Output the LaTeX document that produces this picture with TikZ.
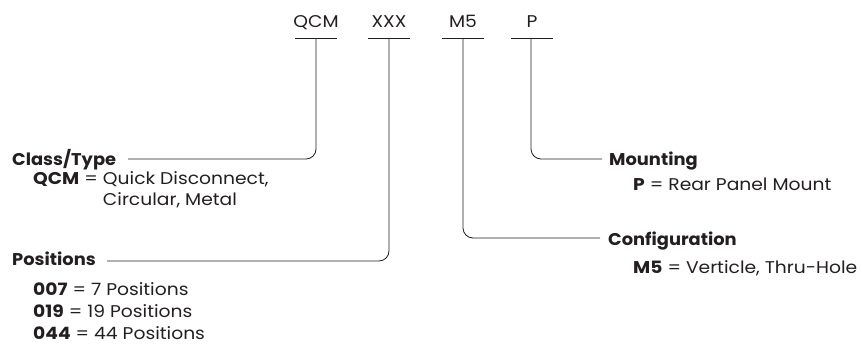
\documentclass[tikz,border=0pt]{standalone}
\usepackage{fontspec}
\setmainfont{Poppins}[FakeStretch=1.1]
\newfontfamily\headfont{Poppins}[FakeStretch=1.05]
\definecolor{ink}{RGB}{35,31,32}
\begin{document}
\begin{tikzpicture}[x=1pt,y=-1pt,
  code/.style={anchor=base, inner sep=0pt, text=ink, font=\fontsize{17}{20}\selectfont},
  head/.style={anchor=base west, inner sep=0pt, text=ink, font=\fontsize{17}{20}\selectfont\headfont\bfseries},
  desc/.style={anchor=base west, inner sep=0pt, text=ink, font=\fontsize{17}{21}\selectfont},
  bar/.style={draw=ink, line width=0.8pt},
  conn/.style={draw=ink, line width=0.8pt, rounded corners=10pt}]
\useasboundingbox (0,0) rectangle (862,354);
% top code letters
\node[code] (qcm) at (316,27) {QCM};
\node[code] (xxx) at (389,27) {XXX};
\node[code] (m5)  at (463,27) {M5};
\node[code] (p)   at (532,27) {P};
% bars
\draw[bar] (295,38) -- (337,38);
\draw[bar] (368,38) -- (410,38);
\draw[bar] (442,38) -- (484,38);
\draw[bar] (511,38) -- (553,38);
\coordinate (qcmb) at (316,38);
\coordinate (xxxb) at (389,38);
\coordinate (m5b)  at (463,38);
\coordinate (pb)   at (531,38);
% headings
\node[head] (class) at (12,165) {Class/Type};
\node[head] (pos)   at (12,265) {Positions};
\node[head] (mount) at (609,165) {Mounting};
\node[head] (conf)  at (608,245) {Configuration};
% line end points
\coordinate (classe) at (128,159);
\coordinate (pose)   at (107,261);
\coordinate (mounte) at (602,159);
\coordinate (confe)  at (600,238);
% connectors
\draw[conn] (qcmb) |- (classe);
\draw[conn] (xxxb) |- (pose);
\draw[conn] (pb) |- (mounte);
\draw[conn] (m5b) |- (confe);
% descriptions
\node[desc] (dqcm) at (33,184) {\begin{tabular}[t]{@{}l@{\hspace{0.3em}}l@{}}\textbf{QCM} = & Quick Disconnect,\\ & Circular, Metal\end{tabular}};
\node[desc] (d007) at (33,295) {\textbf{007} = 7 Positions};
\node[desc] (d019) at (33,317) {\textbf{019} = 19 Positions};
\node[desc] (d044) at (33,339) {\textbf{044} = 44 Positions};
\node[desc] (dp)   at (633,190) {\textbf{P} = Rear Panel Mount};
\node[desc] (dm5)  at (633,273) {\textbf{M5} = Verticle, Thru-Hole};
\end{tikzpicture}
\end{document}
